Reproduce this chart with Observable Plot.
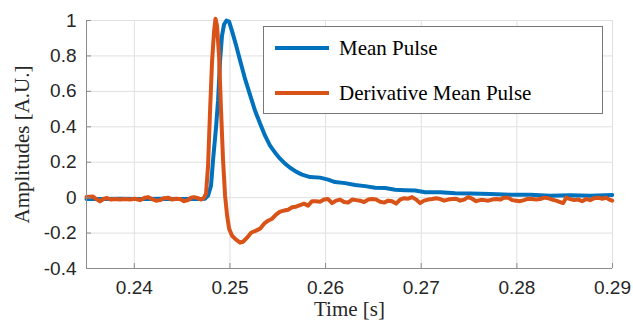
<!DOCTYPE html>
<html>
<head>
<meta charset="utf-8">
<script src="https://cdn.jsdelivr.net/npm/d3@7"></script>
<script src="https://cdn.jsdelivr.net/npm/@observablehq/plot@0.6"></script>
<style>
  html, body { margin: 0; padding: 0; background: #fff; }
  #wrap { position: relative; width: 633px; height: 321px; }
  #legend {
    position: absolute; left: 263px; top: 26px; width: 340px; height: 88px;
    background: #fff; border: 1px solid #777; box-sizing: border-box;
    font-family: "Liberation Serif", "Times New Roman", serif; font-size: 21px; color: #000;
  }
  .item { position: absolute; left: 0; height: 30px; display: flex; align-items: center; }
  .swatch { position: absolute; left: 11px; width: 54px; height: 4px; }
  .lab { position: absolute; left: 75px; white-space: nowrap; }
</style>
</head>
<body>
<div id="wrap"></div>
<script>
// ---- data ----
const seriesNames = ["Mean Pulse", "Derivative Mean Pulse"];
const seriesColors = ["#0072BD", "#D95319"];

const meanT = [0.23500,0.23641,0.23850,0.24060,0.24269,0.24478,0.24687,0.24740,0.24771,0.24802,0.24823,0.24855,0.24876,0.24896,0.24917,0.24938,0.24964,0.24991,0.25022,0.25064,0.25106,0.25158,0.25210,0.25263,0.25315,0.25367,0.25419,0.25472,0.25524,0.25576,0.25629,0.25691,0.25754,0.25838,0.25942,0.26026,0.26099,0.26204,0.26309,0.26413,0.26518,0.26622,0.26727,0.26832,0.26936,0.27041,0.27198,0.27355,0.27512,0.27721,0.27930,0.28139,0.28348,0.28558,0.28767,0.28997];
const meanV = [-0.008,-0.008,-0.006,-0.008,-0.006,-0.008,-0.008,-0.006,0.011,0.068,0.21,0.40,0.55,0.77,0.915,0.977,1.0,0.994,0.94,0.86,0.774,0.67,0.58,0.49,0.418,0.35,0.294,0.254,0.22,0.192,0.169,0.147,0.13,0.116,0.113,0.102,0.088,0.082,0.071,0.065,0.056,0.054,0.045,0.042,0.040,0.031,0.030,0.025,0.023,0.020,0.017,0.017,0.011,0.014,0.011,0.015];

const derivT = [0.23500,0.23568,0.23610,0.23641,0.23683,0.23714,0.23756,0.23798,0.23850,0.23903,0.23955,0.24007,0.24060,0.24112,0.24143,0.24185,0.24227,0.24269,0.24311,0.24353,0.24394,0.24436,0.24478,0.24520,0.24562,0.24593,0.24624,0.24666,0.24698,0.24729,0.24750,0.24771,0.24792,0.24813,0.24834,0.24849,0.24865,0.24886,0.24907,0.24928,0.24949,0.24970,0.24991,0.25022,0.25064,0.25106,0.25137,0.25179,0.25221,0.25273,0.25315,0.25357,0.25399,0.25440,0.25482,0.25524,0.25566,0.25608,0.25650,0.25691,0.25733,0.25775,0.25817,0.25859,0.25901,0.25942,0.25984,0.26026,0.26068,0.26110,0.26152,0.26194,0.26235,0.26277,0.26319,0.26361,0.26403,0.26445,0.26486,0.26528,0.26570,0.26612,0.26654,0.26696,0.26737,0.26779,0.26821,0.26863,0.26905,0.26947,0.26988,0.27030,0.27072,0.27114,0.27156,0.27198,0.27240,0.27281,0.27323,0.27365,0.27407,0.27449,0.27491,0.27532,0.27574,0.27616,0.27658,0.27700,0.27742,0.27784,0.27825,0.27867,0.27909,0.27951,0.27993,0.28035,0.28076,0.28118,0.28160,0.28202,0.28244,0.28286,0.28327,0.28369,0.28411,0.28453,0.28484,0.28516,0.28558,0.28599,0.28641,0.28683,0.28725,0.28767,0.28809,0.28851,0.28892,0.28934,0.28966,0.28997];
const derivV = [0.003,0.006,-0.011,-0.020,-0.006,-0.002,-0.011,-0.008,-0.011,-0.008,-0.011,-0.006,-0.014,0.000,0.003,-0.008,-0.017,-0.014,-0.003,0.000,-0.011,-0.006,-0.008,-0.020,-0.014,0.000,0.003,-0.003,-0.011,0.000,0.023,0.18,0.49,0.77,0.94,1.01,0.97,0.80,0.49,0.21,0.011,-0.10,-0.175,-0.215,-0.237,-0.254,-0.249,-0.226,-0.198,-0.186,-0.175,-0.147,-0.130,-0.119,-0.096,-0.079,-0.073,-0.068,-0.054,-0.051,-0.042,-0.034,-0.045,-0.020,-0.020,-0.023,-0.011,-0.008,-0.031,-0.017,-0.011,-0.025,-0.028,-0.011,-0.014,-0.017,-0.025,-0.011,-0.008,-0.011,-0.023,-0.028,-0.017,-0.020,-0.034,-0.011,-0.003,-0.006,0.003,-0.011,-0.031,-0.017,-0.011,-0.008,-0.003,-0.008,-0.017,-0.011,-0.008,-0.006,-0.017,-0.011,0.003,-0.006,-0.020,-0.014,-0.014,-0.017,-0.011,-0.008,-0.011,0.000,0.000,-0.014,-0.017,-0.020,-0.014,-0.006,-0.008,-0.011,-0.008,0.000,-0.003,-0.011,-0.017,-0.025,-0.031,0.000,-0.008,-0.014,-0.011,-0.020,-0.008,-0.014,-0.003,0.000,-0.006,0.000,-0.011,-0.017];

const xDomain = [0.235, 0.29];
const yDomain = [-0.4, 1];
const xTicks = [0.24, 0.25, 0.26, 0.27, 0.28, 0.29];
const yTicks = [-0.4, -0.2, 0, 0.2, 0.4, 0.6, 0.8, 1];
const xLabel = "Time [s]";
const yLabel = "Amplitudes [A.U.]";

// ---- build tables ----
const meanData = meanT.map((t, i) => ({t, v: meanV[i]}));
const derivData = derivT.map((t, i) => ({t, v: derivV[i]}));

const serif = "'Liberation Serif', 'Times New Roman', serif";
const axisColor = "#8c8c8c";
const gridColor = "#e0e0e0";

const chart = Plot.plot({
  width: 633,
  height: 321,
  marginLeft: 86,
  marginRight: 21,
  marginTop: 20,
  marginBottom: 53,
  style: {fontFamily: "'Liberation Sans', Arial, sans-serif", fontSize: "19px", color: "#262626", background: "#fff", overflow: "visible"},
  x: {domain: xDomain},
  y: {domain: yDomain},
  marks: [
    Plot.gridX(xTicks, {stroke: gridColor, strokeOpacity: 1}),
    Plot.gridY(yTicks, {stroke: gridColor, strokeOpacity: 1}),
    Plot.line(meanData, {x: "t", y: "v", stroke: seriesColors[0], strokeWidth: 4, strokeLinejoin: "round", strokeLinecap: "round"}),
    Plot.line(derivData, {x: "t", y: "v", stroke: seriesColors[1], strokeWidth: 4, strokeLinejoin: "round", strokeLinecap: "round"}),
    Plot.ruleX([xDomain[0]], {stroke: axisColor}),
    Plot.ruleY([yDomain[0]], {stroke: axisColor}),
    Plot.tickX(xTicks, {x: d => d, stroke: axisColor, insetTop: 243}),
    Plot.tickY(yTicks, {y: d => d, stroke: axisColor, insetRight: 521}),
    Plot.axisX(xTicks, {tickSize: 0, tickPadding: 12, tickFormat: d => String(d), label: null, fill: "#262626"}),
    Plot.axisY(yTicks, {tickSize: 0, tickPadding: 10, tickFormat: d => String(d), label: null, fill: "#262626"}),
    Plot.text([yLabel], {text: d => d, frameAnchor: "left", textAnchor: "middle", dx: -64, rotate: -90, fontFamily: serif, fontSize: 21, fill: "#262626"}),
    Plot.text([xLabel], {text: d => d, frameAnchor: "bottom", textAnchor: "middle", dy: 41, lineAnchor: "middle", fontFamily: serif, fontSize: 21, fill: "#262626"})
  ]
});

const wrap = document.getElementById("wrap");
wrap.appendChild(chart);

// legend (inside axes, top right)
const legend = document.createElement("div");
legend.id = "legend";
seriesNames.forEach((name, i) => {
  const item = document.createElement("div");
  item.className = "item";
  item.style.top = (i === 0 ? 6 : 51) + "px";
  item.style.width = "100%";
  const sw = document.createElement("div");
  sw.className = "swatch";
  sw.style.background = seriesColors[i];
  const lab = document.createElement("span");
  lab.className = "lab";
  lab.textContent = name;
  item.appendChild(sw);
  item.appendChild(lab);
  legend.appendChild(item);
});
wrap.appendChild(legend);
</script>
</body>
</html>
